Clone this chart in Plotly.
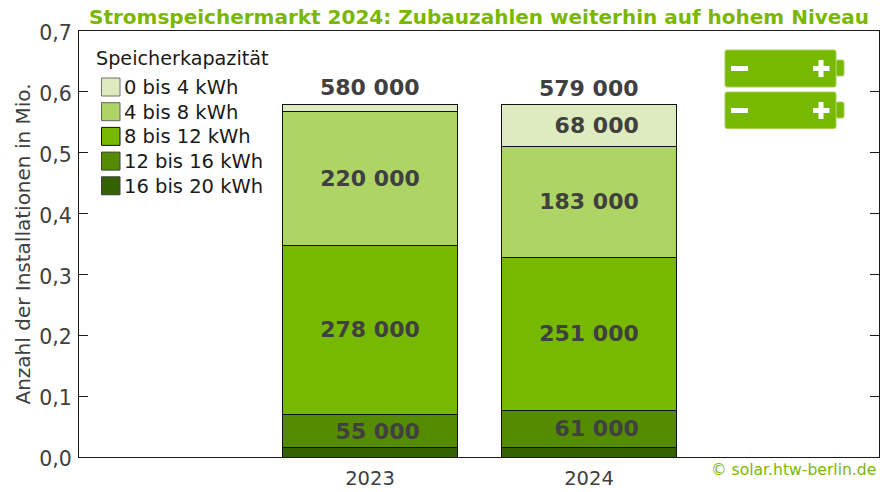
import plotly.graph_objects as go

W, H = 896, 492
L, R, T, B = 79, 879, 31, 457

years = [2023, 2024]
series_names = ["16 bis 20 kWh", "12 bis 16 kWh", "8 bis 12 kWh", "4 bis 8 kWh", "0 bis 4 kWh"]
values_2023 = [15000, 55000, 278000, 220000, 12000]
values_2024 = [16000, 61000, 251000, 183000, 68000]
colors = ["#356200", "#558B00", "#76B900", "#ADD464", "#DDEBBF"]
NB = "\u00a0\u00a0"
shown_2023 = ["", NB + "55 000", "278 000", "220 000", ""]
shown_2024 = ["", NB + "61 000", "251 000", "183 000", NB + "68 000"]
total_labels = ["580 000", "579 000"]
totals = [sum(values_2023), sum(values_2024)]

FONT = "DejaVu Sans"
INK = "#404040"
LINE = "#1a1a1a"


def px(x):
    return (x - L) / (R - L)


def py(y):
    return (B - y) / (B - T)


fig = go.Figure()
for i, name in enumerate(series_names):
    fig.add_trace(go.Bar(
        x=years,
        y=[values_2023[i] / 1e6, values_2024[i] / 1e6],
        name=name,
        width=0.80,
        marker=dict(color=colors[i], line=dict(color="#111111", width=1)),
        text=[shown_2023[i], shown_2024[i]],
        textposition="inside",
        insidetextanchor="middle",
        textangle=0,
        constraintext="none",
        textfont=dict(family=FONT, size=22, color=INK, weight="bold"),
        showlegend=False,
        hoverinfo="name+y",
    ))

shapes = []
annotations = []

for year, total, label in zip(years, totals, total_labels):
    annotations.append(dict(
        xref="x", yref="y", x=year, y=total / 1e6, text=label, showarrow=False,
        xanchor="center", yanchor="bottom", yshift=2,
        font=dict(family=FONT, size=22, color=INK, weight="bold"),
    ))


def rect(x0, y0, x1, y1, fill, line=None, width=1):
    shapes.append(dict(
        type="rect", xref="paper", yref="paper",
        x0=px(x0), x1=px(x1), y0=py(y1), y1=py(y0),
        fillcolor=fill, line=dict(color=line or fill, width=width if line else 0),
        layer="above",
    ))


def rounded(x0, y0, x1, y1, r, fill, line):
    X0, X1, Y0, Y1 = px(x0), px(x1), py(y0), py(y1)
    rx, ry = r / (R - L), r / (B - T)
    path = (f"M{X0 + rx},{Y0} L{X1 - rx},{Y0} Q{X1},{Y0} {X1},{Y0 - ry} "
            f"L{X1},{Y1 + ry} Q{X1},{Y1} {X1 - rx},{Y1} "
            f"L{X0 + rx},{Y1} Q{X0},{Y1} {X0},{Y1 + ry} "
            f"L{X0},{Y0 - ry} Q{X0},{Y0} {X0 + rx},{Y0} Z")
    shapes.append(dict(type="path", xref="paper", yref="paper", path=path,
                       fillcolor=fill, line=dict(color=line, width=1), layer="above"))


def text(x, y, s, size, color, anchor="left", bold=False):
    annotations.append(dict(
        xref="paper", yref="paper", x=px(x), y=py(y), text=s, showarrow=False,
        xanchor=anchor, yanchor="middle", borderpad=0,
        font=dict(family=FONT, size=size, color=color, weight="bold" if bold else "normal"),
    ))


# Legend, drawn top to bottom with the lightest colour first
text(95, 59, "Speicherkapazität", 19.2, "#1a1a1a")
legend_edges = ["#707070", "#606060", "#111111", "#404040", "#404040"]
for k, i in enumerate(reversed(range(len(series_names)))):
    y = 87 + k * 24.7
    rect(101.5, y - 9, 120, y + 9, colors[i], legend_edges[k], 1)
    text(122.5, y + 0.5, series_names[i], 19.5, "#1a1a1a")

# Battery icons
GREEN = "#76B900"
EDGE = "#A6CF5A"
for top, bottom in ((50, 87), (92, 128.5)):
    rounded(836, top + 10, 844, top + 26, 2, GREEN, EDGE)
    rounded(725, top, 836, bottom, 2, GREEN, EDGE)
    rect(731, top + 16, 748, top + 21, "#FFFFFF")
    rect(813, top + 16, 829.5, top + 21, "#FFFFFF")
    rect(818.5, top + 10, 823.5, top + 27, "#FFFFFF")

text(479, 17, "Stromspeichermarkt 2024: Zubauzahlen weiterhin auf hohem Niveau", 20, "#7AB800", "center", True)
text(877, 470, "© solar.htw-berlin.de", 15.6, "#7AB800", "right")

fig.update_layout(
    width=W, height=H,
    autosize=False,
    barmode="stack",
    separators=", ",
    paper_bgcolor="white",
    plot_bgcolor="white",
    margin=dict(l=L, r=W - R, t=T, b=H - B, pad=0, autoexpand=False),
    font=dict(family=FONT, color=INK),
    shapes=shapes,
    annotations=annotations,
    showlegend=False,
    xaxis=dict(
        range=[2023 - 291 / 219, 2024 + 290 / 219],
        tickmode="array", tickvals=years, ticktext=[str(y) for y in years],
        ticks="", showgrid=False, zeroline=False, ticklabelstandoff=4,
        showline=True, linecolor=LINE, linewidth=1, mirror=True,
        tickfont=dict(family=FONT, size=19.5, color=INK),
    ),
    yaxis=dict(
        range=[0, 0.7], dtick=0.1, tickformat=".1f",
        ticks="inside", ticklen=9, tickcolor=LINE, tickwidth=1,
        showgrid=False, zeroline=False, ticklabelstandoff=2, ticklabelshift=2,
        showline=True, linecolor=LINE, linewidth=1, mirror="ticks",
        tickfont=dict(family=FONT, size=20.5, color=INK),
        title=dict(text="Anzahl der Installationen in Mio.", standoff=3,
                   font=dict(family=FONT, size=20, color=INK)),
    ),
)

fig.write_html("out.html", config={"displayModeBar": False},
               post_script="document.body.style.margin='0';")
